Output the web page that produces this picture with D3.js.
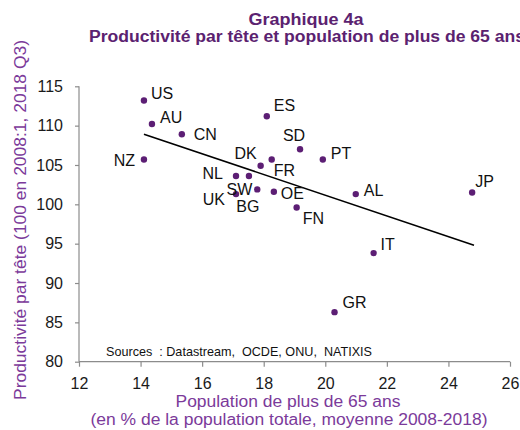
<!DOCTYPE html>
<html><head><meta charset="utf-8">
<script src="https://cdn.jsdelivr.net/npm/d3@7"></script>
<style>
html,body{margin:0;padding:0;background:#fff;}
svg{display:block;font-family:"Liberation Sans",Arial,sans-serif;}
</style></head>
<body>
<svg id="chart" width="520" height="430"></svg>
<script>
// ---- data ----
const countries = ["US","AU","CN","NZ","ES","DK","FR","NL","BG","UK","SW","OE","FN","SD","PT","AL","JP","IT","GR"];
const pop65 = [14.11,14.37,15.34,14.11,18.10,17.90,18.26,17.10,17.52,17.10,17.79,18.33,19.07,19.18,19.92,20.99,24.77,21.57,20.30];
const productivity = [113.2,110.2,108.9,105.7,111.2,104.9,105.7,103.6,103.6,101.3,101.9,101.6,99.6,107.0,105.7,101.3,101.5,93.8,86.3];
const xTicks = [12,14,16,18,20,22,24,26];
const yTicks = [80,85,90,95,100,105,110,115];

// ---- label placement (layout only) ----
const labelPos = {
  US:[7,-1,"start"], AU:[8,-1,"start"], CN:[12,6,"start"], NZ:[-9,7,"end"],
  ES:[7,-5,"start"], DK:[-4,-7,"end"], FR:[2,17,"start"], NL:[-13,3,"end"],
  BG:[-1,36,"middle"], UK:[-11,11,"end"], SW:[-5,6,"end"], OE:[7,7,"start"],
  FN:[6,17,"start"], SD:[-6,-8,"middle"], PT:[8,0,"start"], AL:[8,2,"start"],
  JP:[3,-6,"start"], IT:[7,-3,"start"], GR:[8,-4,"start"]
};

const svg = d3.select("#chart");
const x = d3.scaleLinear().domain([12,26]).range([79,510]);
const y = d3.scaleLinear().domain([80,115]).range([361.7,86.3]);
const axisCol = "#8c8c8c";
const titleCol = "#5b2270";
const axTitleCol = "#7b3a9a";
const dotCol = "#5c1e74";

// titles
svg.append("text").attr("x",306).attr("y",25).attr("text-anchor","middle")
  .attr("font-size",16).attr("font-weight","bold").attr("fill",titleCol)
  .attr("textLength",115).attr("lengthAdjust","spacingAndGlyphs").text("Graphique 4a");
svg.append("text").attr("x",307).attr("y",42).attr("text-anchor","middle")
  .attr("font-size",16).attr("font-weight","bold").attr("fill",titleCol)
  .attr("textLength",436).attr("lengthAdjust","spacingAndGlyphs")
  .text("Productivité par tête et population de plus de 65 ans");

// axes
const xAxis = svg.append("g").attr("transform","translate(0,361.7)")
  .call(d3.axisBottom(x).tickValues(xTicks).tickSize(5).tickPadding(11).tickFormat(d3.format("d")));
const yAxis = svg.append("g").attr("transform","translate(79,0)")
  .call(d3.axisLeft(y).tickValues(yTicks).tickSize(4).tickPadding(12).tickFormat(d3.format("d")));
[xAxis,yAxis].forEach(a=>{
  a.select(".domain").attr("stroke",axisCol).attr("stroke-width",1.2);
  a.selectAll(".tick line").attr("stroke",axisCol).attr("stroke-width",1.2);
  a.selectAll(".tick text").attr("fill","#1a1a1a").attr("font-size",16)
    .attr("font-family","'Liberation Sans',Arial,sans-serif");
});
yAxis.select(".domain").attr("d","M0,361.7V86.3");
xAxis.select(".domain").attr("d","M79,0H510");

// axis titles
svg.append("text").attr("transform","translate(26,220) rotate(-90)").attr("text-anchor","middle")
  .attr("font-size",16).attr("fill",axTitleCol)
  .attr("textLength",360).attr("lengthAdjust","spacingAndGlyphs")
  .text("Productivité par tête (100 en 2008:1, 2018 Q3)");
svg.append("text").attr("x",288).attr("y",407).attr("text-anchor","middle")
  .attr("font-size",16).attr("fill",axTitleCol)
  .attr("textLength",225).attr("lengthAdjust","spacingAndGlyphs")
  .text("Population de plus de 65 ans");
svg.append("text").attr("x",289).attr("y",425).attr("text-anchor","middle")
  .attr("font-size",16).attr("fill",axTitleCol)
  .attr("textLength",397).attr("lengthAdjust","spacingAndGlyphs")
  .text("(en % de la population totale, moyenne 2008-2018)");

// sources
svg.append("text").attr("x",106).attr("y",356).attr("font-size",13).attr("fill","#111")
  .style("white-space","pre").attr("textLength",266).attr("lengthAdjust","spacingAndGlyphs")
  .text("Sources  : Datastream,  OCDE, ONU,  NATIXIS");

// regression trend line
const pts = countries.map((c,i)=>({c, x:pop65[i], y:productivity[i]}));
const mx = d3.mean(pts,d=>d.x), my = d3.mean(pts,d=>d.y);
const slope = d3.sum(pts,d=>(d.x-mx)*(d.y-my)) / d3.sum(pts,d=>(d.x-mx)**2);
const icpt = my - slope*mx;
const [x0,x1] = d3.extent(pts,d=>d.x);
svg.append("line").attr("x1",x(x0)).attr("y1",y(icpt+slope*x0))
  .attr("x2",x(x1+0.06)).attr("y2",y(icpt+slope*(x1+0.06)))
  .attr("stroke","#000").attr("stroke-width",1.6);

// dots
svg.append("g").selectAll("circle").data(pts).join("circle")
  .attr("cx",d=>x(d.x)).attr("cy",d=>y(d.y)).attr("r",3.2).attr("fill",dotCol);

// labels
svg.append("g").selectAll("text").data(pts).join("text")
  .attr("x",d=>x(d.x)+labelPos[d.c][0]).attr("y",d=>y(d.y)+labelPos[d.c][1])
  .attr("text-anchor",d=>labelPos[d.c][2])
  .attr("font-size",16).attr("fill","#111").text(d=>d.c);
</script>
</body></html>
